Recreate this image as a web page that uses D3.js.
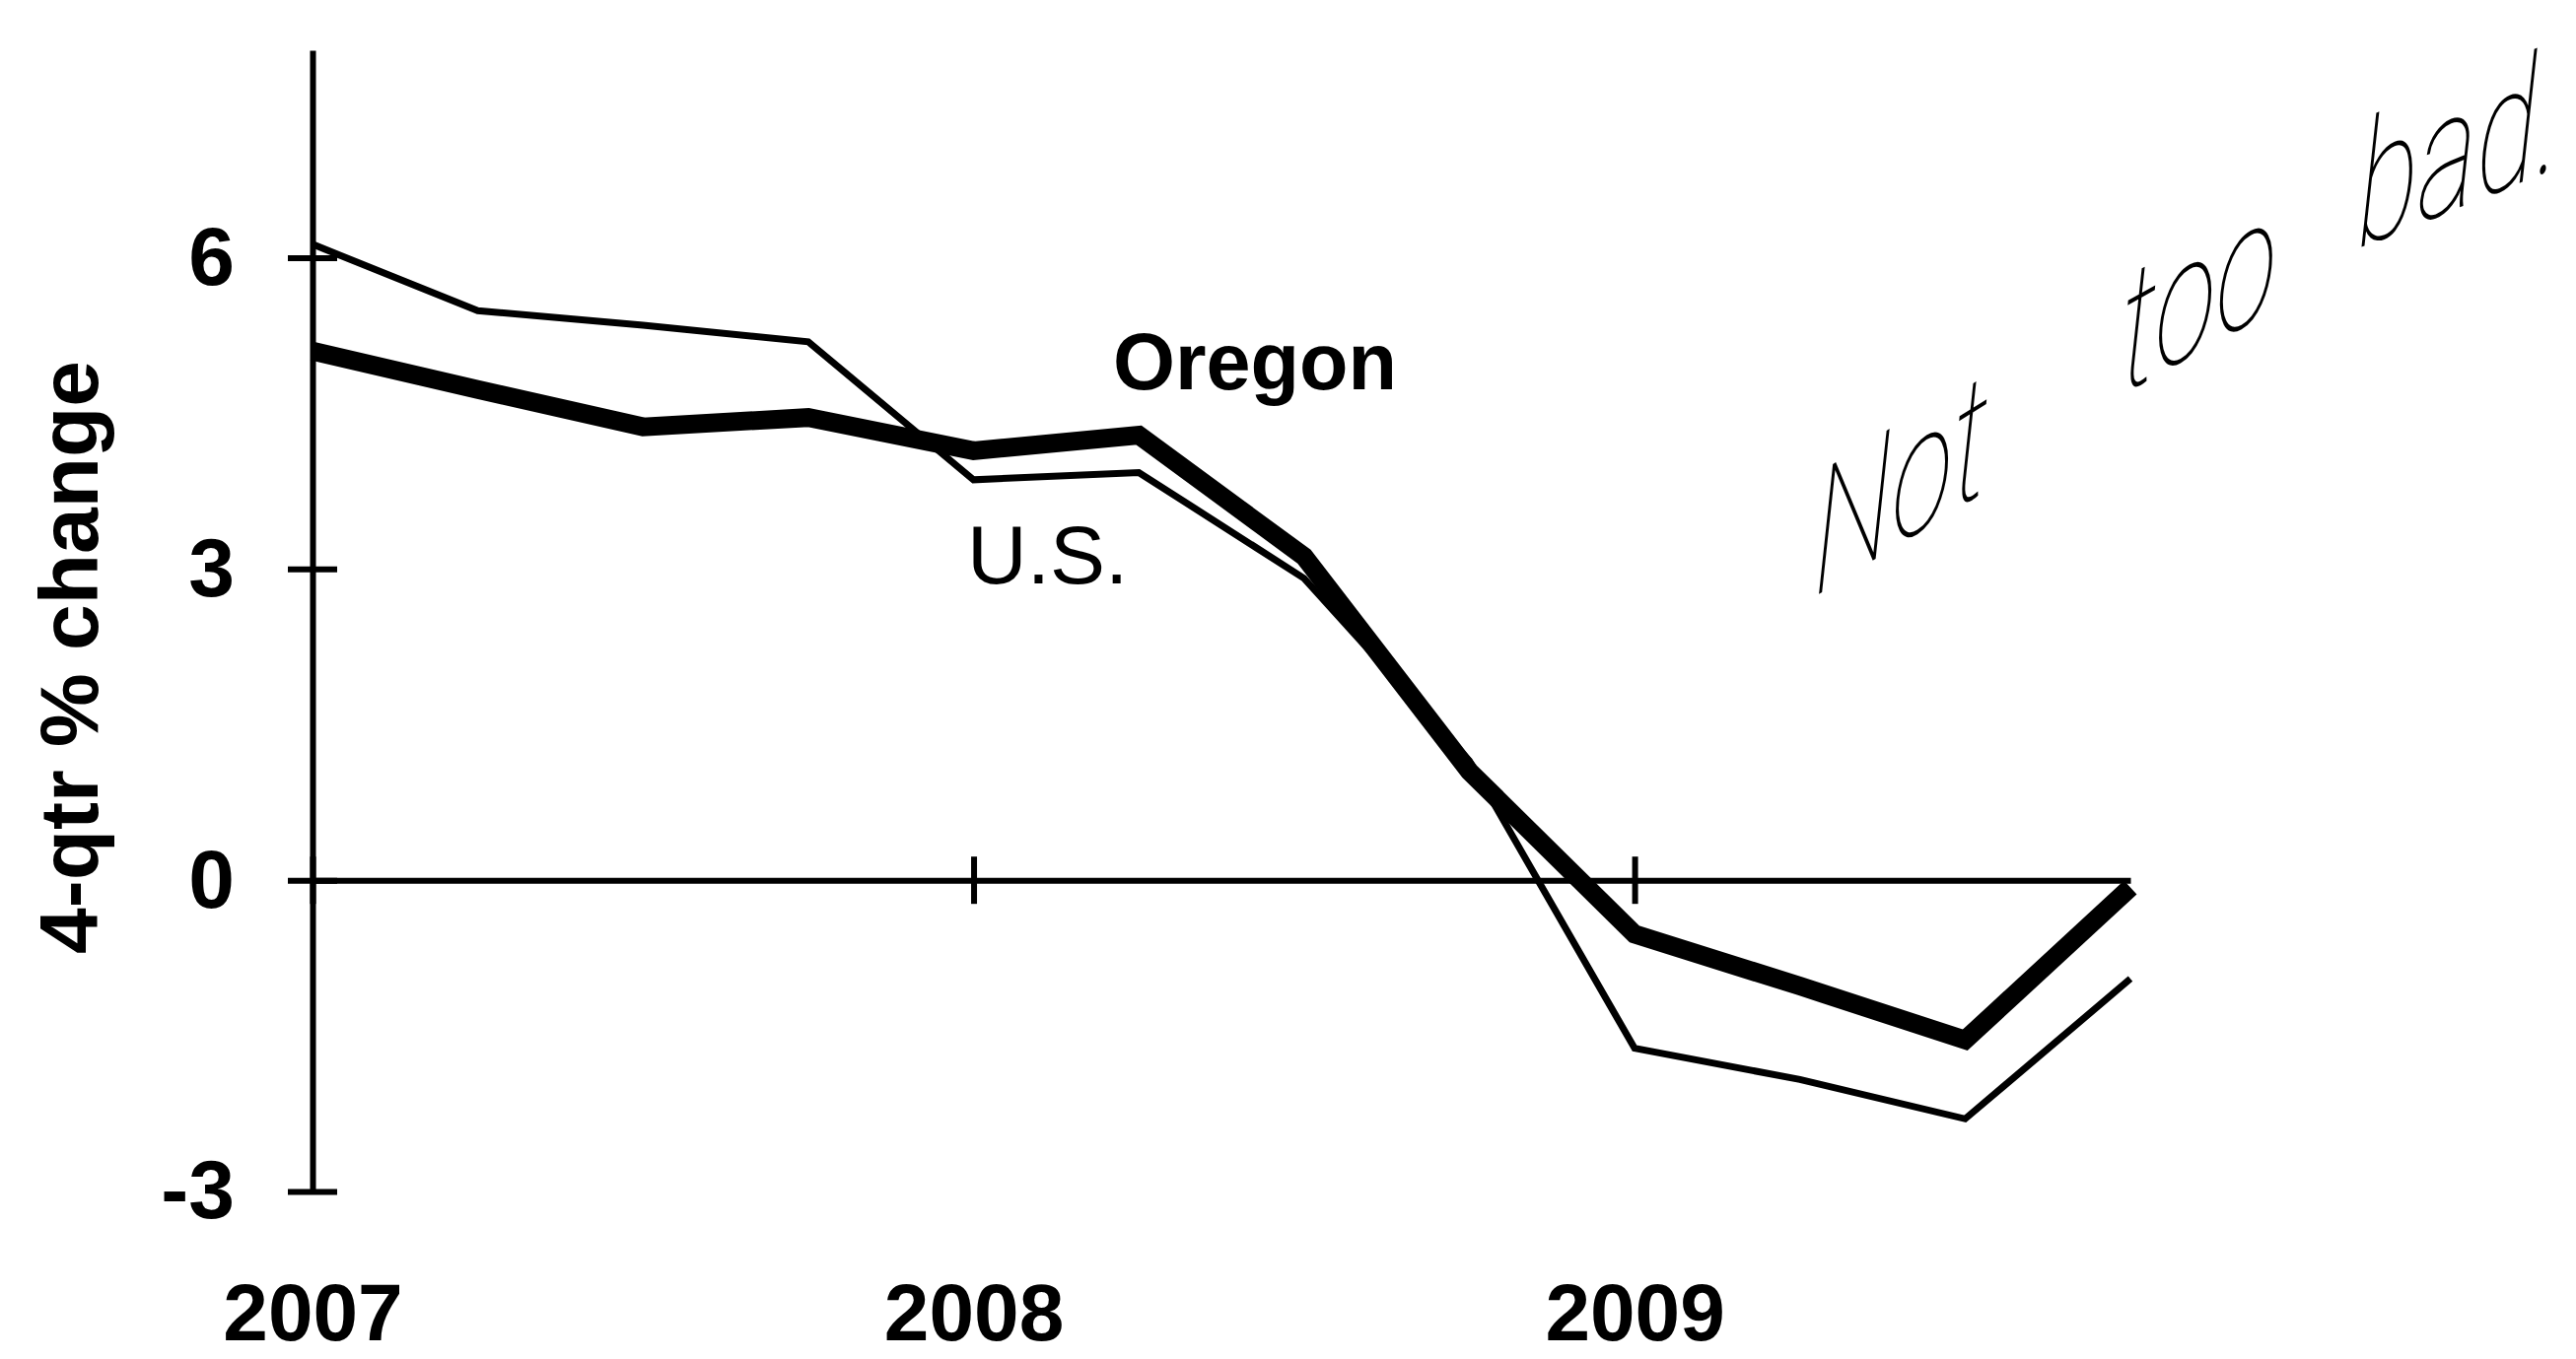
<!DOCTYPE html>
<html>
<head>
<meta charset="utf-8">
<script src="https://cdn.jsdelivr.net/npm/d3@7"></script>
<style>
  html, body { margin: 0; padding: 0; background: #fff; }
</style>
</head>
<body>
<div id="chart"></div>
<script>
// Quarterly 4-qtr % change, 2007Q1 .. 2009Q4
const quarters = ['2007Q1', '2007Q2', '2007Q3', '2007Q4',
                  '2008Q1', '2008Q2', '2008Q3', '2008Q4',
                  '2009Q1', '2009Q2', '2009Q3', '2009Q4'];
const usValues     = [6.13, 5.49, 5.35, 5.19, 3.86, 3.93, 2.91, 1.15, -1.62, -1.92, -2.30, -0.95];
const oregonValues = [5.10, 4.73, 4.37, 4.46, 4.14, 4.29, 3.12, 1.05, -0.52, -1.02, -1.54, -0.07];
const yearLabels = ['2007', '2008', '2009'];
const yearTickIndex = [0, 4, 8];
const yTicks = [-3, 0, 3, 6];
const yDomain = [-3, 8];
const noteWords = ['Not', 'too', 'bad.'];

(function() {
  const width = 2613;
  const height = 1379;
  const font = '"Liberation Sans", Arial, Helvetica, sans-serif';

  const svg = d3.select('#chart').append('svg')
    .attr('width', width)
    .attr('height', height)
    .style('display', 'block');

  const x = d3.scaleLinear().domain([0, quarters.length - 1]).range([317, 2161]);
  const y = d3.scaleLinear().domain(yDomain).range([1209, 51]);

  // y axis: cross-shaped ticks, bold labels with a plain hyphen minus
  const yAxis = d3.axisLeft(y)
    .tickValues(yTicks)
    .tickFormat(d => String(d))
    .tickSize(25)
    .tickSizeOuter(0)
    .tickPadding(54);

  svg.append('g')
    .attr('transform', `translate(${x(0)},0)`)
    .call(yAxis)
    .call(g => g.select('.domain').attr('stroke', '#000').attr('stroke-width', 6))
    .call(g => g.selectAll('.tick line').attr('x1', 25).attr('stroke', '#000').attr('stroke-width', 6))
    .call(g => g.selectAll('.tick text')
      .attr('fill', '#000')
      .style('font-family', font)
      .style('font-size', '84px')
      .style('font-weight', 700));

  // x axis sits on the zero line; year labels hang well below the plot
  const xAxis = d3.axisBottom(x)
    .tickValues(yearTickIndex)
    .tickFormat((d, i) => yearLabels[i])
    .tickSize(24)
    .tickSizeOuter(0);

  svg.append('g')
    .attr('transform', `translate(0,${y(0)})`)
    .call(xAxis)
    .call(g => g.select('.domain').attr('stroke', '#000').attr('stroke-width', 6))
    .call(g => g.selectAll('.tick line').attr('y1', -24).attr('stroke', '#000').attr('stroke-width', 6))
    .call(g => g.selectAll('.tick text')
      .attr('y', 1360 - y(0))
      .attr('dy', 0)
      .attr('fill', '#000')
      .style('font-family', font)
      .style('font-size', '82px')
      .style('font-weight', 700));

  svg.append('text')
    .attr('transform', 'translate(99,667) rotate(-90)')
    .attr('text-anchor', 'middle')
    .style('font-family', font)
    .style('font-size', '84px')
    .style('font-weight', 700)
    .text('4-qtr % change');

  const line = d3.line()
    .x((d, i) => x(i))
    .y(d => y(d));

  svg.append('path')
    .datum(usValues)
    .attr('d', line)
    .attr('fill', 'none')
    .attr('stroke', '#000')
    .attr('stroke-width', 7);

  svg.append('path')
    .datum(oregonValues)
    .attr('d', line)
    .attr('fill', 'none')
    .attr('stroke', '#000')
    .attr('stroke-width', 19);

  svg.append('text')
    .attr('x', 1129)
    .attr('y', 395)
    .style('font-family', font)
    .style('font-size', '81px')
    .style('font-weight', 700)
    .text('Oregon');

  svg.append('text')
    .attr('x', 981)
    .attr('y', 592)
    .style('font-family', font)
    .style('font-size', '84px')
    .text('U.S.');

  // handwritten note: upright letters on a rising baseline
  const notePos = [[1840, 606, -32], [2152, 400, -29], [2392, 252, -22]];
  svg.append('g')
    .selectAll('text')
    .data(noteWords)
    .enter().append('text')
    .attr('transform', (d, i) => `translate(${notePos[i][0]},${notePos[i][1]}) skewY(${notePos[i][2]}) scale(0.7,1.05)`)
    .style('font-family', 'Roboto, "Open Sans", Lato, sans-serif')
    .style('font-size', '165px')
    .style('font-weight', 100)
    .style('font-style', 'italic')
    .text(d => d);
})();
</script>
</body>
</html>
